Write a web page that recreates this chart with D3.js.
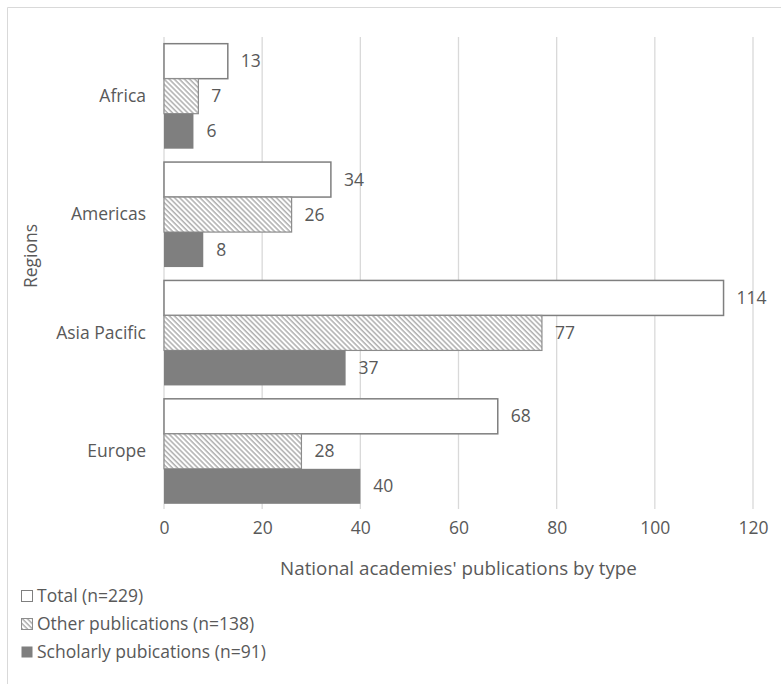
<!DOCTYPE html>
<html>
<head>
<meta charset="utf-8">
<script src="https://cdn.jsdelivr.net/npm/d3@7"></script>
<style>
  html, body { margin: 0; padding: 0; background: #fff; }
  svg { display: block; }
  text { font-family: "Open Sans", "Noto Sans", sans-serif; fill: #595959; }
</style>
</head>
<body>
<svg id="chart" width="781" height="684"></svg>
<script>
// Regions and publication counts by type
const regions = ["Africa", "Americas", "Asia Pacific", "Europe"];
const seriesNames = ["Total (n=229)", "Other publications (n=138)", "Scholarly pubications (n=91)"];
const totalValues = [13, 34, 114, 68];
const otherValues = [7, 26, 77, 28];
const scholarlyValues = [6, 8, 37, 40];
const xTicks = [0, 20, 40, 60, 80, 100, 120];
const xTitle = "National academies' publications by type";
const yTitle = "Regions";

const seriesKeys = ["total", "other", "scholarly"];
const seriesValues = [totalValues, otherValues, scholarlyValues];
const rows = regions.map((r, i) => ({
  region: r,
  values: seriesKeys.map((k, j) => ({ key: k, value: seriesValues[j][i] }))
}));

const svg = d3.select("#chart");
const W = 781, H = 684;
const plot = { left: 164, right: 753, top: 37, bottom: 510.5 };
const fs = 17.5;

// hatch fill for "Other publications"
const defs = svg.append("defs");
const pat = defs.append("pattern")
  .attr("id", "hatch")
  .attr("patternUnits", "userSpaceOnUse")
  .attr("width", 3.6).attr("height", 3.6)
  .attr("patternTransform", "rotate(-45)");
pat.append("rect").attr("width", 3.6).attr("height", 3.6).attr("fill", "#fff");
pat.append("line").attr("x1", 1).attr("y1", 0).attr("x2", 1).attr("y2", 3.6)
  .attr("stroke", "#9a9a9a").attr("stroke-width", 1.2);

const styles = {
  total: { fill: "#ffffff", stroke: "#7f7f7f", sw: 1.5 },
  other: { fill: "url(#hatch)", stroke: "#8c8c8c", sw: 1.2 },
  scholarly: { fill: "#7f7f7f", stroke: "none", sw: 0 }
};

// chart frame
svg.append("path")
  .attr("d", `M7.5,${H} V7.5 H${W}`)
  .attr("fill", "none").attr("stroke", "#d9d9d9").attr("stroke-width", 1);

const x = d3.scaleLinear().domain([0, 120]).range([plot.left, plot.right]);
const y0 = d3.scaleBand().domain(regions).range([plot.top, plot.bottom])
  .paddingInner(0.113).paddingOuter(0.0565);
const y1 = d3.scaleBand().domain(seriesKeys).range([0, y0.bandwidth()]);

// vertical gridlines
svg.append("g").selectAll("line").data(xTicks).join("line")
  .attr("x1", d => x(d)).attr("x2", d => x(d))
  .attr("y1", plot.top).attr("y2", plot.bottom - 1.5)
  .attr("stroke", "#d9d9d9").attr("stroke-width", 1.3);

// x tick labels
const xAxis = d3.axisBottom(x).tickValues(xTicks).tickSize(0).tickPadding(0);
const gx = svg.append("g").attr("transform", `translate(0,${plot.bottom + 18})`).call(xAxis);
gx.select(".domain").remove();
gx.selectAll("text").attr("font-size", fs).attr("dy", "0.32em")
  .style("font-family", "'Open Sans', sans-serif").attr("fill", "#595959");

// y category labels
const yAxis = d3.axisLeft(y0).tickSize(0).tickPadding(0);
const gy = svg.append("g").attr("transform", `translate(${plot.left - 18},0)`).call(yAxis);
gy.select(".domain").remove();
gy.selectAll("text").attr("font-size", fs)
  .style("font-family", "'Open Sans', sans-serif").attr("fill", "#595959");

// bars
const groups = svg.append("g").selectAll("g").data(rows).join("g")
  .attr("transform", d => `translate(0,${y0(d.region)})`);

groups.selectAll("rect").data(d => d.values).join("rect")
  .attr("x", x(0))
  .attr("y", d => y1(d.key))
  .attr("width", d => x(d.value) - x(0))
  .attr("height", y1.bandwidth())
  .attr("fill", d => styles[d.key].fill)
  .attr("stroke", d => styles[d.key].stroke)
  .attr("stroke-width", d => styles[d.key].sw);

// value labels
groups.selectAll("text.val").data(d => d.values).join("text")
  .attr("class", "val")
  .attr("x", d => x(d.value) + 13)
  .attr("y", d => y1(d.key) + y1.bandwidth() / 2)
  .attr("dy", "0.35em")
  .attr("font-size", fs)
  .text(d => d.value);

// axis titles
svg.append("text")
  .attr("x", (plot.left + plot.right) / 2).attr("y", 568).attr("dy", "0.35em")
  .attr("text-anchor", "middle").attr("font-size", 18.8)
  .text(xTitle);

svg.append("text")
  .attr("transform", "translate(31,256) rotate(-90)")
  .attr("dy", "0.35em").attr("text-anchor", "middle").attr("font-size", fs)
  .text(yTitle);

// legend
const legend = svg.append("g").selectAll("g").data(seriesKeys).join("g")
  .attr("transform", (d, i) => `translate(21,${596 + i * 28})`);
legend.append("rect")
  .attr("x", 0.5).attr("y", -5.5).attr("width", 11).attr("height", 11)
  .attr("fill", d => styles[d].fill)
  .attr("stroke", d => d === "scholarly" ? "none" : styles[d].stroke)
  .attr("stroke-width", 1);
legend.append("text")
  .attr("x", 16).attr("dy", "0.35em").attr("font-size", fs)
  .text((d, i) => seriesNames[i]);
</script>
</body>
</html>
